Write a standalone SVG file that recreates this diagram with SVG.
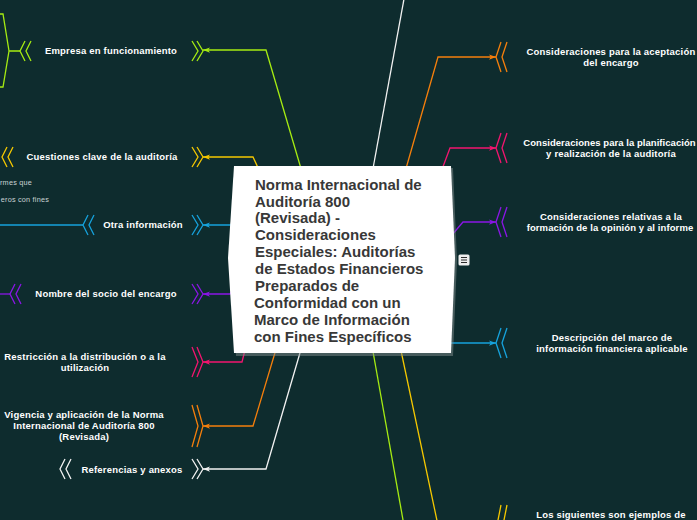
<svg xmlns="http://www.w3.org/2000/svg" width="697" height="520" viewBox="0 0 697 520">
<defs>
<style>
.c{fill:none;stroke-width:1.3;stroke-linejoin:miter}
.lime{stroke:#a6ec12}.yel{stroke:#f5c800}.blu{stroke:#16a2dc}.pur{stroke:#8a16e6}.pnk{stroke:#f2156f}.org{stroke:#f57f0c}.wht{stroke:#f2f2f2}
.lbl{font-family:"Liberation Sans",Arial,sans-serif;font-weight:bold;font-size:9.5px;fill:#ffffff;letter-spacing:0.2px;text-anchor:middle}
.ttl{font-family:"Liberation Sans",Arial,sans-serif;font-weight:bold;font-size:15px;fill:#383838}
.frag{font-family:"Liberation Sans",Arial,sans-serif;font-size:7.3px;fill:#c9d3d3;text-anchor:end;letter-spacing:0.2px}
</style>
<marker id="a-lime" viewBox="0 0 8 6" refX="8" refY="3" markerWidth="7" markerHeight="6" markerUnits="userSpaceOnUse" orient="auto"><path d="M0,0 L8,3 L0,6 L2,3 z" fill="#a6ec12"/></marker>
<marker id="a-yel" viewBox="0 0 8 6" refX="8" refY="3" markerWidth="7" markerHeight="6" markerUnits="userSpaceOnUse" orient="auto"><path d="M0,0 L8,3 L0,6 L2,3 z" fill="#f5c800"/></marker>
<marker id="a-blu" viewBox="0 0 8 6" refX="8" refY="3" markerWidth="7" markerHeight="6" markerUnits="userSpaceOnUse" orient="auto"><path d="M0,0 L8,3 L0,6 L2,3 z" fill="#16a2dc"/></marker>
<marker id="a-pur" viewBox="0 0 8 6" refX="8" refY="3" markerWidth="7" markerHeight="6" markerUnits="userSpaceOnUse" orient="auto"><path d="M0,0 L8,3 L0,6 L2,3 z" fill="#8a16e6"/></marker>
<marker id="a-pnk" viewBox="0 0 8 6" refX="8" refY="3" markerWidth="7" markerHeight="6" markerUnits="userSpaceOnUse" orient="auto"><path d="M0,0 L8,3 L0,6 L2,3 z" fill="#f2156f"/></marker>
<marker id="a-org" viewBox="0 0 8 6" refX="8" refY="3" markerWidth="7" markerHeight="6" markerUnits="userSpaceOnUse" orient="auto"><path d="M0,0 L8,3 L0,6 L2,3 z" fill="#f57f0c"/></marker>
<marker id="a-wht" viewBox="0 0 8 6" refX="8" refY="3" markerWidth="7" markerHeight="6" markerUnits="userSpaceOnUse" orient="auto"><path d="M0,0 L8,3 L0,6 L2,3 z" fill="#f2f2f2"/></marker>
</defs>
<rect x="0" y="0" width="697" height="520" fill="#0e2c2e"/>

<g id="connectors">
<path class="c lime" d="M302,172 L266,50 L203,50" marker-end="url(#a-lime)"/>
<path class="c yel" d="M260,172 L253,157 L203,157" marker-end="url(#a-yel)"/>
<path class="c blu" d="M240,225 L203,225" marker-end="url(#a-blu)"/>
<path class="c pur" d="M237,282 L230,294 L203,294" marker-end="url(#a-pur)"/>
<path class="c pnk" d="M246,346 L242,362 L203,362" marker-end="url(#a-pnk)"/>
<path class="c org" d="M277,346 L253,426 L203,426" marker-end="url(#a-org)"/>
<path class="c wht" d="M302,346 L266,469 L203,469" marker-end="url(#a-wht)"/>
<path class="c org" d="M405,172 L438,57 L496,57" marker-end="url(#a-org)"/>
<path class="c pnk" d="M441,172 L450,148 L496,148" marker-end="url(#a-pnk)"/>
<path class="c pur" d="M446,242 L463,222 L496,222" marker-end="url(#a-pur)"/>
<path class="c blu" d="M445,343 L496,343" marker-end="url(#a-blu)"/>
<path class="c yel" d="M400,346 L439,530 L496,530" marker-end="url(#a-yel)"/>
<path class="c lime" d="M372,346 L408,548"/>
<path class="c wht" d="M372,174 L406,-12"/>
<path class="c lime" d="M20,51 L9,51 M0,14 L3,14 L9,51 L3,87 L0,87"/>
<path class="c blu" d="M83,225 L0,225"/>
<path class="c pur" d="M10,294 L0,294"/>
</g>

<g id="center">
<polygon points="236,168 453,168 457,260 453,356 236,356 230,260" fill="#7f8b8b" opacity="0.5"/>
<polygon points="234,166 451,166 455,258 451,353 234,353 228,258" fill="#ffffff"/>
<text class="ttl" x="255" y="189.6">Norma Internacional de</text>
<text class="ttl" x="255" y="206.5">Auditoría 800</text>
<text class="ttl" x="255" y="223.4">(Revisada) -</text>
<text class="ttl" x="255" y="240.4">Consideraciones</text>
<text class="ttl" x="255" y="257.3">Especiales: Auditorías</text>
<text class="ttl" x="255" y="274.2">de Estados Financieros</text>
<text class="ttl" x="255" y="291.2">Preparados de</text>
<text class="ttl" x="254" y="308.1">Conformidad con un</text>
<text class="ttl" x="254" y="325">Marco de Información</text>
<text class="ttl" x="254" y="342">con Fines Específicos</text>
<rect x="458.5" y="254.5" width="11" height="11" rx="1.5" fill="#eeeeee"/>
<path d="M461,257.5 H467 M461,260 H467 M461,262.5 H467" stroke="#2a2a2a" stroke-width="1"/>
</g>

<g id="n-empresa">
<path class="c lime" d="M192,41 L198,51 L192,61 M197,41 L203,51 L197,61"/>
<path class="c lime" d="M25,41 L20,51 L25,61 M31,41 L26,51 L31,61"/>
<text class="lbl" x="111" y="54.3">Empresa en funcionamiento</text>
</g>
<g id="n-cuestiones">
<path class="c yel" d="M192,147 L198,157 L192,167 M197,147 L203,157 L197,167"/>
<path class="c yel" d="M7,147 L2,157 L7,167 M13,147 L8,157 L13,167"/>
<text class="lbl" x="102" y="160.3">Cuestiones clave de la auditoría</text>
</g>
<g id="frag">
<text class="frag" x="32" y="184.5">rmes que</text>
<text class="frag" x="49" y="201.5">eros con fines</text>
</g>
<g id="n-otra">
<path class="c blu" d="M192,215 L198,225 L192,235 M197,215 L203,225 L197,235"/>
<path class="c blu" d="M88,215 L83,225 L88,235 M94,215 L89,225 L94,235"/>
<text class="lbl" x="143" y="228.3">Otra información</text>
</g>
<g id="n-nombre">
<path class="c pur" d="M192,284 L198,294 L192,304 M197,284 L203,294 L197,304"/>
<path class="c pur" d="M15,284 L10,294 L15,304 M21,284 L16,294 L21,304"/>
<text class="lbl" x="106" y="297.3">Nombre del socio del encargo</text>
</g>
<g id="n-restriccion">
<path class="c pnk" d="M192,347 L198,362 L192,377 M197,347 L203,362 L197,377"/>
<text class="lbl" x="85" y="360.3">Restricción a la distribución o a la</text>
<text class="lbl" x="85" y="371.3">utilización</text>
</g>
<g id="n-vigencia">
<path class="c org" d="M192,405 L198,426 L192,447 M197,405 L203,426 L197,447"/>
<text class="lbl" x="84" y="418.3">Vigencia y aplicación de la Norma</text>
<text class="lbl" x="84" y="429.3">Internacional de Auditoría 800</text>
<text class="lbl" x="84" y="440.3">(Revisada)</text>
</g>
<g id="n-referencias">
<path class="c wht" d="M192,459 L198,469 L192,479 M197,459 L203,469 L197,479"/>
<path class="c wht" d="M65,459 L60,469 L65,479 M71,459 L66,469 L71,479"/>
<text class="lbl" x="132" y="472.8">Referencias y anexos</text>
</g>
<g id="n-aceptacion">
<path class="c org" d="M501,42 L496,57 L501,72 M507,42 L502,57 L507,72"/>
<text class="lbl" x="611" y="55.3">Consideraciones para la aceptación</text>
<text class="lbl" x="611" y="66.3">del encargo</text>
</g>
<g id="n-planificacion">
<path class="c pnk" d="M501,133 L496,148 L501,163 M507,133 L502,148 L507,163"/>
<text class="lbl" x="609.5" y="146.3" style="letter-spacing:0.05px">Consideraciones para la planificación</text>
<text class="lbl" x="611" y="157.3">y realización de la auditoría</text>
</g>
<g id="n-opinion">
<path class="c pur" d="M501,207 L496,222 L501,237 M507,207 L502,222 L507,237"/>
<text class="lbl" x="611" y="220.3">Consideraciones relativas a la</text>
<text class="lbl" x="610" y="231.3" style="letter-spacing:0.1px">formación de la opinión y al informe</text>
</g>
<g id="n-descripcion">
<path class="c blu" d="M501,328 L496,343 L501,358 M507,328 L502,343 L507,358"/>
<text class="lbl" x="612" y="341.3">Descripción del marco de</text>
<text class="lbl" x="612" y="352.3">información financiera aplicable</text>
</g>
<g id="n-ejemplos">
<path class="c yel" d="M501,505 L496,530 L501,555 M507,505 L502,530 L507,555"/>
<text class="lbl" x="611" y="518.3">Los siguientes son ejemplos de</text>
</g>
</svg>
